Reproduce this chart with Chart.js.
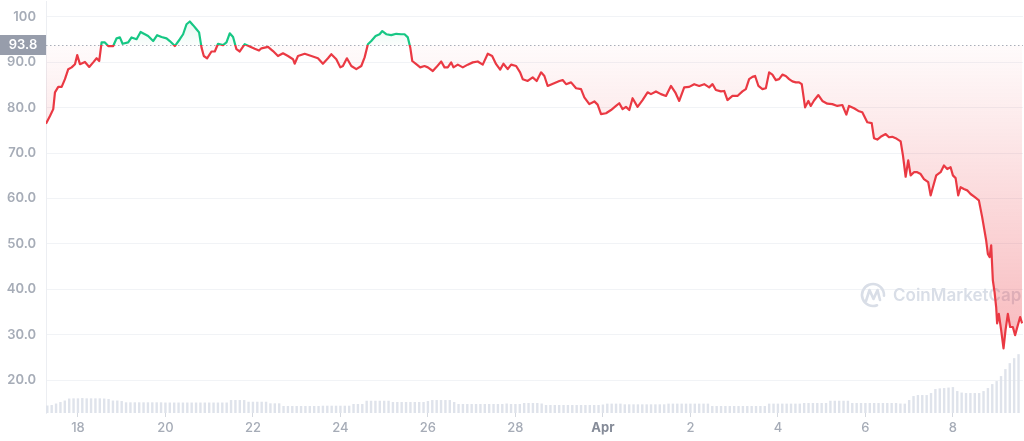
<!DOCTYPE html>
<html>
<head>
<meta charset="utf-8">
<script src="https://cdn.jsdelivr.net/npm/chart.js@4.4.1/dist/chart.umd.min.js"></script>
<style>
html,body{margin:0;padding:0;background:#ffffff;}
#wrap{width:1024px;height:441px;position:relative;overflow:hidden;}
canvas{display:block;}
</style>
</head>
<body>
<div id="wrap"><canvas id="c" width="1024" height="441"></canvas></div>
<script>
// ---------- data ----------
const BASE_PRICE = 93.8;
const xTickValues = [18, 20, 22, 24, 26, 28, 30, 32, 34, 36, 38];
const xTickLabels = ['18', '20', '22', '24', '26', '28', 'Apr', '2', '4', '6', '8'];
const yTickValues = [20, 30, 40, 50, 60, 70, 80, 90, 100];
const yTickLabels = ['20.0', '30.0', '40.0', '50.0', '60.0', '70.0', '80.0', '90.0', '100'];

const priceDays = [
  17.269,17.361,17.436,17.475,17.550,17.628,17.703,17.779,17.856,17.932,17.984,
  18.046,18.160,18.258,18.349,18.427,18.486,18.541,18.616,18.692,18.806,18.884,18.959,
  19.021,19.148,19.226,19.340,19.432,19.530,19.605,19.719,19.811,19.911,
  20.025,20.100,20.215,20.329,20.404,20.482,20.557,20.632,20.710,20.769,20.824,20.877,20.952,
  21.053,21.128,21.203,21.317,21.395,21.470,21.546,21.623,21.699,21.813,21.927,
  22.041,22.139,22.194,22.345,22.459,22.573,22.687,22.801,22.916,22.954,
  23.030,23.183,23.336,23.486,23.600,23.715,23.792,23.906,23.998,
  24.057,24.148,24.249,24.363,24.477,24.553,24.628,24.705,24.804,24.895,24.957,
  25.048,25.162,25.276,25.390,25.466,25.541,25.596,25.642,25.733,25.824,25.922,25.998,
  26.112,26.189,26.304,26.379,26.454,26.532,26.584,26.683,26.797,26.911,
  27.025,27.139,27.253,27.368,27.468,27.559,27.651,27.726,27.824,27.902,
  28.016,28.107,28.167,28.281,28.395,28.486,28.587,28.662,28.737,
  29.005,29.080,29.158,29.272,29.386,29.500,29.575,29.689,29.804,29.879,29.957,
  30.071,30.185,30.299,30.374,30.450,30.527,30.603,30.678,30.792,30.906,
  31.021,31.098,31.212,31.326,31.441,31.555,31.653,31.744,31.858,31.973,
  32.087,32.201,32.315,32.429,32.505,32.582,32.696,32.772,32.847,32.961,
  33.075,33.189,33.267,33.342,33.418,33.479,33.555,33.646,33.724,33.799,33.874,33.952,
  34.027,34.103,34.180,34.256,34.331,34.409,34.484,34.545,34.621,34.696,34.751,34.826,34.925,
  35.016,35.130,35.244,35.358,35.473,35.564,35.626,35.740,35.838,35.929,
  36.043,36.144,36.196,36.272,36.349,36.463,36.539,36.614,36.692,36.806,36.858,36.920,36.979,
  37.034,37.110,37.185,37.263,37.338,37.436,37.491,37.543,37.619,37.719,37.795,37.870,37.947,
  38.000,38.062,38.121,38.176,38.251,38.326,38.404,38.502,38.594,38.669,38.760,38.799,38.838,38.875,38.913,38.952,38.989,
  39.011,39.050,39.103,39.157,39.203,39.256,39.308,39.370,39.422,39.484,39.537,39.582
];
const priceValues = [
  76.5,78.2,79.7,83.4,84.6,84.6,86.3,88.5,88.9,89.6,91.6,
  89.6,90.1,89.0,90.0,90.9,90.3,94.4,94.4,93.6,93.6,95.3,95.5,
  94.1,94.4,95.5,95.1,96.7,96.2,95.8,94.7,96.0,95.6,
  95.3,94.7,93.6,95.1,96.2,98.4,99.0,98.2,97.3,96.6,93.3,91.4,90.9,
  92.4,92.4,94.1,93.8,94.4,96.4,95.6,92.9,92.4,94.0,93.5,
  93.0,92.6,93.1,93.4,92.5,91.4,92.0,91.4,90.7,89.7,
  91.4,91.9,91.4,90.9,89.7,90.9,91.8,90.7,88.9,
  89.2,90.9,89.2,88.5,89.2,91.1,94.0,94.7,95.8,96.2,96.9,
  96.2,96.0,96.3,96.2,96.2,95.5,93.3,90.3,89.6,88.9,89.2,88.9,
  88.1,88.9,90.2,88.9,88.9,90.0,88.9,89.5,88.9,89.5,
  90.0,90.2,89.5,91.9,91.4,89.6,88.4,89.7,88.5,89.5,
  89.2,87.8,86.3,85.9,86.7,85.9,87.8,87.0,84.8,
  85.9,86.1,85.2,85.6,84.3,84.1,82.3,80.8,81.4,80.7,78.6,
  78.8,79.5,80.4,81.0,79.7,80.2,79.5,82.1,80.2,81.7,
  83.4,83.0,83.6,83.0,82.6,84.8,83.4,81.5,84.5,84.6,
  85.2,84.8,85.2,84.5,85.2,83.9,83.6,83.7,81.7,82.6,
  82.6,83.6,84.1,86.3,86.8,87.0,84.8,84.1,84.3,87.8,87.3,86.1,
  86.3,87.3,87.0,86.3,85.8,85.6,85.6,85.2,80.1,81.5,80.4,81.6,82.8,
  81.5,80.9,80.8,80.4,80.6,78.5,80.4,79.9,79.3,79.0,
  76.8,76.6,73.3,73.0,73.6,74.2,73.5,73.6,73.3,72.6,69.5,64.8,68.4,
  65.1,65.8,65.8,65.4,64.3,63.6,60.7,62.5,65.1,65.8,67.3,66.5,66.9,
  65.1,64.5,60.7,62.5,62.1,61.8,61.0,60.3,59.6,55.9,50.8,47.8,47.1,49.7,42.0,39.4,36.1,
  32.5,34.6,31.0,27.0,31.0,34.6,31.7,31.7,29.9,32.1,33.9,32.5
];

// volume bars: one bar every 0.1 day starting at day 17.3 (arbitrary units)
const volumeStart = 17.3;
const volumeStep = 0.1;
const volumeValues = [
  75,80,95,110,125,145,147,147,150,147,
  147,147,147,145,140,125,125,120,107,107,
  107,107,107,107,107,107,107,105,105,105,
  105,105,105,105,105,105,105,105,105,105,
  105,105,130,130,130,130,113,113,113,113,
  113,97,97,97,70,70,70,70,70,70,
  70,70,70,73,73,73,73,73,73,73,
  90,90,90,123,123,123,123,123,123,110,
  110,110,110,110,110,110,110,120,130,130,
  130,130,130,110,90,90,90,90,90,90,
  90,90,90,90,90,95,90,90,90,100,
  100,100,100,95,80,80,80,80,80,80,
  80,80,80,80,80,80,80,85,94,94,
  94,94,87,87,87,87,87,87,87,87,
  87,87,94,94,94,94,94,94,94,94,
  94,94,70,70,70,70,70,70,70,70,
  70,70,70,70,70,94,94,94,94,94,
  94,94,94,100,100,100,100,100,100,123,
  123,123,123,123,100,100,100,100,100,100,
  100,100,100,100,100,95,94,130,170,180,
  180,180,200,240,247,250,255,260,220,205,
  200,200,200,200,220,250,290,320,370,440,
  500,550,590
];

// ---------- chart ----------
const RED = '#ea3943';
const GREEN = '#16c784';

const pricePoints = priceDays.map((d, i) => ({ x: d, y: priceValues[i] }));
const volumePoints = volumeValues.map((v, i) => ({ x: volumeStart + i * volumeStep, y: v }));

function lineGradient(context) {
  const chart = context.chart;
  const area = chart.chartArea;
  if (!area || !chart.scales.y) return RED;
  const yb = chart.scales.y.getPixelForValue(BASE_PRICE);
  const g = chart.ctx.createLinearGradient(0, area.top, 0, area.bottom);
  let s = (yb - area.top) / (area.bottom - area.top);
  s = Math.min(Math.max(s, 0), 1);
  g.addColorStop(0, GREEN);
  g.addColorStop(s, GREEN);
  g.addColorStop(s, RED);
  g.addColorStop(1, RED);
  return g;
}

function zeroPadding(s) {
  s.paddingTop = 0; s.paddingBottom = 0; s.paddingLeft = 0; s.paddingRight = 0;
}

const decorPlugin = {
  id: 'decor',
  beforeDatasetsDraw(chart) {
    const ctx = chart.ctx;
    const area = chart.chartArea;
    // watermark
    ctx.save();
    ctx.strokeStyle = '#d9dee7';
    ctx.fillStyle = '#d9dee7';
    ctx.lineWidth = 2.6;
    ctx.lineCap = 'round';
    ctx.lineJoin = 'round';
    ctx.beginPath();
    ctx.arc(873, 295, 11, 0.38 * Math.PI, 2.02 * Math.PI);
    ctx.stroke();
    ctx.beginPath();
    ctx.moveTo(866, 301);
    ctx.lineTo(869.5, 290);
    ctx.lineTo(873.5, 299);
    ctx.lineTo(877.5, 290);
    ctx.lineTo(880, 300);
    ctx.stroke();
    ctx.font = '600 17px Inter, "Noto Sans", sans-serif';
    ctx.textBaseline = 'middle';
    ctx.textAlign = 'left';
    ctx.fillText('CoinMarketCap', 893, 295.5);
    ctx.restore();
    // dotted baseline
    const yb = Math.round(chart.scales.y.getPixelForValue(BASE_PRICE)) + 0.5;
    ctx.save();
    ctx.strokeStyle = '#a9afba';
    ctx.lineWidth = 1;
    ctx.setLineDash([1.5, 2.5]);
    ctx.beginPath();
    ctx.moveTo(area.left, yb);
    ctx.lineTo(area.right, yb);
    ctx.stroke();
    ctx.restore();
  },
  afterDraw(chart) {
    const ctx = chart.ctx;
    const yb = Math.round(chart.scales.y.getPixelForValue(BASE_PRICE));
    ctx.save();
    ctx.fillStyle = '#979dab';
    ctx.fillRect(0, yb - 10, 46, 20);
    ctx.fillStyle = '#ffffff';
    ctx.font = '600 13px Inter, "Noto Sans", sans-serif';
    ctx.textAlign = 'center';
    ctx.textBaseline = 'middle';
    ctx.fillText(BASE_PRICE.toFixed(1), 23, yb + 0.5);
    ctx.restore();
  }
};

const chart = new Chart(document.getElementById('c'), {
  type: 'line',
  data: {
    datasets: [
      {
        type: 'line',
        label: 'Price',
        data: pricePoints,
        yAxisID: 'y',
        borderWidth: 2.2,
        borderColor: lineGradient,
        pointRadius: 0,
        tension: 0,
        borderJoinStyle: 'round',
        fill: { target: { value: BASE_PRICE }, above: 'rgba(22,199,132,0.08)', below: 'rgba(234,57,67,0.12)' },
        order: 0
      },
      {
        type: 'bar',
        label: 'Volume',
        data: volumePoints,
        yAxisID: 'y2',
        backgroundColor: '#dfe3eb',
        borderWidth: 0,
        barPercentage: 0.55,
        categoryPercentage: 1,
        order: 1
      }
    ]
  },
  options: {
    responsive: false,
    animation: false,
    events: [],
    devicePixelRatio: 1,
    layout: { padding: 0 },
    plugins: { legend: { display: false }, tooltip: { enabled: false } },
    scales: {
      x: {
        type: 'linear',
        offset: false,
        min: 17.27,
        max: 39.6,
        afterBuildTicks: (s) => { s.ticks = xTickValues.map(v => ({ value: v })); },
        afterFit: (s) => { s.height = 28; zeroPadding(s); },
        ticks: {
          autoSkip: false,
          maxRotation: 0,
          padding: 3,
          callback: (v) => { const i = xTickValues.indexOf(v); return i >= 0 ? xTickLabels[i] : ''; },
          font: (ctx) => ({ family: 'Inter, "Noto Sans", sans-serif', size: 13, weight: (ctx.tick && ctx.tick.value === 30) ? '700' : '500' }),
          color: (ctx) => (ctx.tick && ctx.tick.value === 30) ? '#858b98' : '#a6acb7'
        },
        grid: { offset: false, drawOnChartArea: false, drawTicks: true, tickLength: 4, color: '#d5d9e0' },
        border: { display: false }
      },
      y: {
        type: 'linear',
        position: 'left',
        min: 12.75,
        max: 103.5,
        afterBuildTicks: (s) => { s.ticks = yTickValues.map(v => ({ value: v })); },
        afterFit: (s) => { s.width = 46; zeroPadding(s); },
        ticks: {
          padding: 10,
          callback: (v) => { const i = yTickValues.indexOf(v); return i >= 0 ? yTickLabels[i] : ''; },
          font: { family: 'Inter, "Noto Sans", sans-serif', size: 13, weight: '600' },
          color: '#a6acb7'
        },
        grid: { drawTicks: false, color: '#f1f3f6' },
        border: { display: true, color: '#eceef2' }
      },
      y2: {
        type: 'linear',
        display: false,
        min: 0,
        max: 4130
      }
    }
  },
  plugins: [decorPlugin]
});

// gradient fills, built once the layout is known
(function () {
  const area = chart.chartArea;
  const yb = chart.scales.y.getPixelForValue(BASE_PRICE);
  const c = chart.ctx;
  const up = c.createLinearGradient(0, area.top, 0, yb);
  up.addColorStop(0, 'rgba(22,199,132,0.20)');
  up.addColorStop(1, 'rgba(22,199,132,0.02)');
  const down = c.createLinearGradient(0, yb, 0, area.bottom);
  down.addColorStop(0, 'rgba(234,57,67,0.02)');
  down.addColorStop(1, 'rgba(234,57,67,0.42)');
  chart.data.datasets[0].fill = { target: { value: BASE_PRICE }, above: up, below: down };
  chart.update('none');
})();
</script>
</body>
</html>
